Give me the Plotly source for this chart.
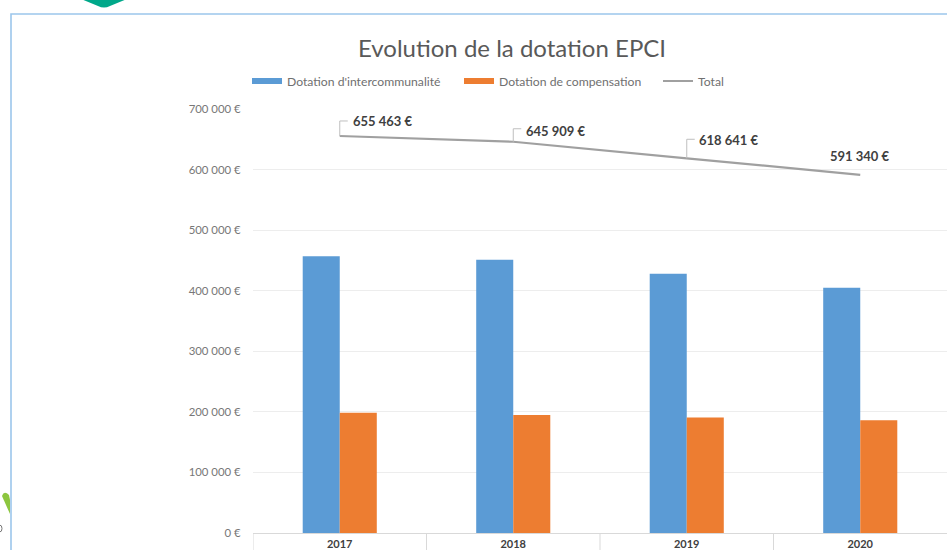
import plotly.graph_objects as go

years = ["2017", "2018", "2019", "2020"]
intercommunalite = [457000, 451000, 428000, 405000]
compensation = [198463, 194909, 190641, 186340]
total = [655463, 645909, 618641, 591340]
total_labels = ["655 463 €", "645 909 €", "618 641 €", "591 340 €"]
y_ticks = [0, 100000, 200000, 300000, 400000, 500000, 600000, 700000]
y_tick_labels = ["0 €", "100 000 €", "200 000 €", "300 000 €", "400 000 €", "500 000 €", "600 000 €", "700 000 €"]

W, H = 947, 550
L, R, T, B = 253, 0, 109, 17
PW, PH = W - L - R, H - T - B
FONT = "Lato"
BLUE, ORANGE, GREY = "#5B9BD5", "#ED7D31", "#A0A0A0"


def px(x):
    return (x - L) / PW


def py(y):
    return (H - B - y) / PH


fig = go.Figure()
fig.add_bar(x=years, y=intercommunalite, marker=dict(color=BLUE, line_width=0), showlegend=False)
fig.add_bar(x=years, y=compensation, marker=dict(color=ORANGE, line_width=0), showlegend=False)
fig.add_scatter(x=years, y=total, mode="lines", line=dict(color=GREY, width=2.2), showlegend=False)
# legend keys: wide flat swatches, each in its own legend so it can sit where the reference has it
legend_specs = [("Dotation d'intercommunalité", BLUE, 6, "legend", 247),
                ("Dotation de compensation", ORANGE, 6, "legend2", 459),
                ("Total", GREY, 2, "legend3", 658)]
legend_layout = {}
for name, col, w, lg, left in legend_specs:
    fig.add_scatter(x=[None], y=[None], mode="lines", name=name, line=dict(color=col, width=w), legend=lg,
                    showlegend=True)
    legend_layout[lg] = dict(x=px(left), xanchor="left", y=py(81), yanchor="middle", itemwidth=30,
                             font=dict(family=FONT, size=12.2, color="#707070"), bgcolor="rgba(0,0,0,0)")

shapes = [
    dict(type="path", xref="paper", yref="paper",
         path=f"M {px(11)} {py(551)} L {px(11)} {py(14)} L {px(948)} {py(14)}",
         line=dict(color="#9CC6EC", width=1.6)),
    dict(type="path", xref="paper", yref="paper", fillcolor="#00A88A", line_width=0,
         path=f"M {px(81)} {py(-1)} L {px(98)} {py(6)} Q {px(104)} {py(9)} {px(110)} {py(6)} L {px(127)} {py(-1)} Z"),
    dict(type="path", xref="paper", yref="paper", fillcolor="#8DC63F", line_width=0,
         path=f"M {px(2)} {py(496)} Q {px(4)} {py(490)} {px(9)} {py(495)} L {px(10)} {py(500)} L {px(10)} {py(514)} Z"),
    dict(type="circle", xref="paper", yref="paper", x0=px(-3), x1=px(2), y0=py(532), y1=py(525),
         line=dict(color="#777777", width=1)),
]
# category separators below the axis line
for i in range(len(years)):
    shapes.append(dict(type="line", xref="x", yref="paper", x0=i - 0.5, x1=i - 0.5, y0=0, y1=py(551),
                       line=dict(color="#D9D9D9", width=1)))
annotations = []
# label offsets (dx, dy) and leader heights relative to each point of the total line
offsets = [(43, 15), (43, 11), (42, 18), (0, 19)]
leaders = [15, 13, 19, None]
for i, (v, lab, (dx, dy), lead) in enumerate(zip(total, total_labels, offsets, leaders)):
    annotations.append(dict(x=i, y=v, text=lab, xref="x", yref="y", showarrow=False,
                            xshift=dx, yshift=dy, font=dict(family=FONT, size=13, color="#404040", weight="bold")))
    if lead:
        shapes.append(dict(type="path", xref="x", yref="y", xsizemode="pixel", ysizemode="pixel",
                           xanchor=i, yanchor=v, path=f"M 0 0 L 0 {lead} L 8 {lead}",
                           line=dict(color="#BFBFBF", width=1)))

fig.update_layout(
    width=W, height=H, autosize=False,
    margin=dict(l=L, r=R, t=T, b=B, pad=0),
    paper_bgcolor="white", plot_bgcolor="white",
    barmode="group", bargap=0.573, bargroupgap=0,
    title=dict(text="Evolution de la dotation EPCI", x=512 / W, xanchor="center", y=1 - 49 / H, yanchor="middle",
               font=dict(family=FONT, size=24, color="#595959")),
    xaxis=dict(type="category", showgrid=False, showline=True, linecolor="#D9D9D9", linewidth=1,
               ticks="outside", ticklen=1, tickcolor="rgba(0,0,0,0)",
               tickfont=dict(family=FONT, size=11, color="#404040", weight="bold"), automargin=False,
               range=[-0.5, 3.5]),
    yaxis=dict(range=[0, 700000], tickvals=y_ticks, ticktext=y_tick_labels, showgrid=True, gridcolor="#EDEDED",
               gridwidth=1, zeroline=False, showline=False, ticks="outside", ticklen=9, tickcolor="rgba(0,0,0,0)",
               tickfont=dict(family=FONT, size=11.4, color="#777777"), automargin=False),
    shapes=shapes, annotations=annotations,
    **legend_layout,
)
fig.write_html("out.html", config=dict(displayModeBar=False),
               post_script="document.body.style.margin='0';document.body.style.overflow='hidden';")
